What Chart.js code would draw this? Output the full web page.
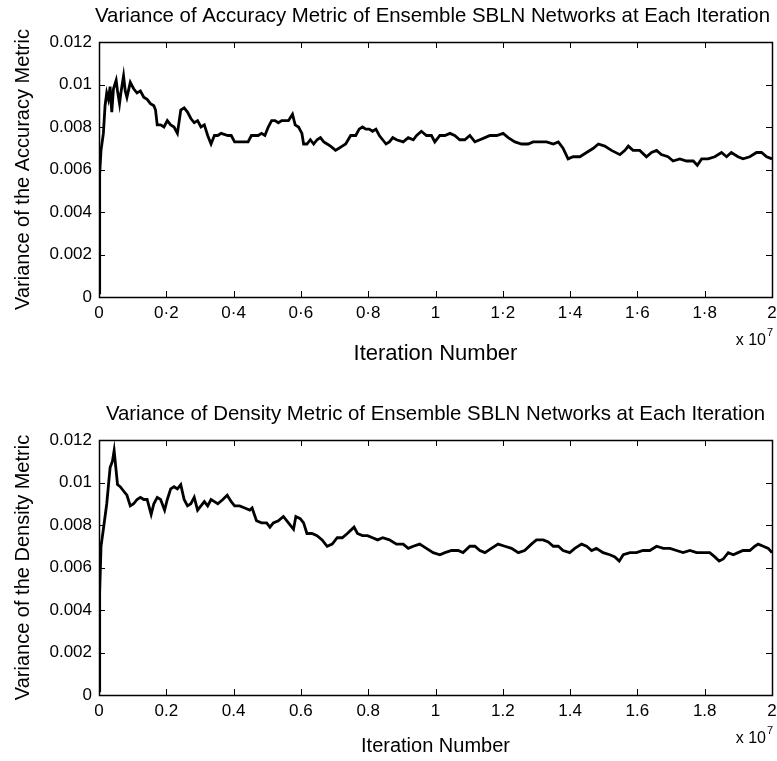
<!DOCTYPE html>
<html>
<head>
<meta charset="utf-8">
<script src="https://cdn.jsdelivr.net/npm/chart.js@4.4.0/dist/chart.umd.min.js"></script>
<style>
  html, body { margin: 0; padding: 0; background: #fff; }
  body { width: 777px; height: 761px; position: relative; overflow: hidden; }
  canvas { position: absolute; left: 0; }
  #accChart { top: 0; }
  #denChart { top: 398px; }
</style>
</head>
<body>
<canvas id="accChart" width="777" height="370"></canvas>
<canvas id="denChart" width="777" height="363"></canvas>
<script>
// iteration number in units of 1e7 (axis shows "x 10^7")
const accIter = [0, 0.002, 0.006, 0.013, 0.018, 0.023, 0.028, 0.033, 0.038, 0.043, 0.051, 0.055, 0.061, 0.065, 0.073, 0.078, 0.083, 0.093, 0.103, 0.113,
  0.123, 0.133, 0.143, 0.153, 0.163, 0.168, 0.173, 0.183, 0.193, 0.203, 0.213, 0.223, 0.233, 0.243, 0.253, 0.263, 0.273, 0.283, 0.293, 0.303,
  0.313, 0.323, 0.333, 0.343, 0.353, 0.363, 0.383, 0.393, 0.403, 0.423, 0.443, 0.453, 0.473, 0.483, 0.493, 0.503, 0.513, 0.523, 0.533, 0.543,
  0.563, 0.575, 0.583, 0.593, 0.603, 0.608, 0.618, 0.628, 0.638, 0.648, 0.658, 0.668, 0.678, 0.688, 0.703, 0.713, 0.723, 0.733, 0.748, 0.763,
  0.773, 0.783, 0.793, 0.803, 0.813, 0.823, 0.833, 0.843, 0.853, 0.863, 0.873, 0.884, 0.904, 0.919, 0.934, 0.944, 0.958, 0.973, 0.988, 0.998,
  1.013, 1.028, 1.043, 1.057, 1.072, 1.087, 1.102, 1.117, 1.132, 1.147, 1.162, 1.182, 1.201, 1.216, 1.236, 1.256, 1.275, 1.290, 1.310, 1.330,
  1.350, 1.365, 1.379, 1.394, 1.409, 1.429, 1.449, 1.469, 1.484, 1.503, 1.523, 1.548, 1.563, 1.573, 1.587, 1.607, 1.627, 1.642, 1.657, 1.671,
  1.691, 1.706, 1.726, 1.746, 1.766, 1.778, 1.791, 1.810, 1.830, 1.850, 1.865, 1.879, 1.899, 1.914, 1.934, 1.954, 1.969, 1.984, 2.0];
const accVar = [0.0002, 0.0058, 0.0069, 0.0077, 0.0090, 0.0096, 0.0093, 0.0099, 0.0087, 0.0098, 0.0102, 0.0097, 0.0091, 0.0096, 0.0104, 0.0097, 0.0094, 0.0101, 0.0098, 0.0096,
  0.0097, 0.0094, 0.0093, 0.0091, 0.0090, 0.0088, 0.0081, 0.0081, 0.0080, 0.0083, 0.0081, 0.0080, 0.0077, 0.0088, 0.0089, 0.0087, 0.0084, 0.0082, 0.0083, 0.0080,
  0.0081, 0.0076, 0.0072, 0.0076, 0.0076, 0.0077, 0.0076, 0.0076, 0.0073, 0.0073, 0.0073, 0.0076, 0.0076, 0.0077, 0.0076, 0.0080, 0.0083, 0.0083, 0.0082, 0.0083,
  0.0083, 0.0086, 0.0081, 0.0080, 0.0077, 0.0072, 0.0072, 0.0074, 0.0072, 0.0074, 0.0075, 0.0073, 0.0072, 0.0071, 0.0069, 0.0070, 0.0071, 0.0072, 0.0076, 0.0076,
  0.0079, 0.0080, 0.0079, 0.0079, 0.0078, 0.0079, 0.0076, 0.0074, 0.0072, 0.0073, 0.0075, 0.0074, 0.0073, 0.0075, 0.0074, 0.0076, 0.0078, 0.0076, 0.0076, 0.0073,
  0.0076, 0.0076, 0.0077, 0.0076, 0.0074, 0.0074, 0.0076, 0.0073, 0.0074, 0.0075, 0.0076, 0.0076, 0.0077, 0.0075, 0.0073, 0.0072, 0.0072, 0.0073, 0.0073, 0.0073,
  0.0072, 0.0073, 0.0070, 0.0065, 0.0066, 0.0066, 0.0068, 0.0070, 0.0072, 0.0071, 0.0069, 0.0067, 0.0069, 0.0071, 0.0069, 0.0069, 0.0066, 0.0068, 0.0069, 0.0067,
  0.0066, 0.0064, 0.0065, 0.0064, 0.0064, 0.0062, 0.0065, 0.0065, 0.0066, 0.0068, 0.0066, 0.0068, 0.0066, 0.0065, 0.0066, 0.0068, 0.0068, 0.0066, 0.0065];

const denIter = [0, 0.002, 0.006, 0.013, 0.023, 0.033, 0.040, 0.045, 0.050, 0.055, 0.063, 0.073, 0.083, 0.093, 0.103, 0.113, 0.123, 0.133, 0.143, 0.155,
  0.163, 0.173, 0.183, 0.195, 0.203, 0.213, 0.223, 0.233, 0.243, 0.253, 0.263, 0.273, 0.283, 0.293, 0.303, 0.313, 0.323, 0.333, 0.343, 0.353,
  0.368, 0.381, 0.393, 0.403, 0.418, 0.433, 0.448, 0.455, 0.468, 0.483, 0.498, 0.508, 0.518, 0.533, 0.548, 0.563, 0.578, 0.585, 0.598, 0.608,
  0.618, 0.633, 0.648, 0.663, 0.678, 0.693, 0.708, 0.723, 0.738, 0.758, 0.768, 0.783, 0.798, 0.813, 0.828, 0.843, 0.863, 0.884, 0.904, 0.919,
  0.934, 0.953, 0.973, 0.993, 1.013, 1.028, 1.048, 1.067, 1.082, 1.102, 1.117, 1.132, 1.147, 1.166, 1.186, 1.206, 1.226, 1.246, 1.265, 1.285,
  1.300, 1.320, 1.335, 1.350, 1.365, 1.379, 1.399, 1.414, 1.434, 1.449, 1.464, 1.478, 1.498, 1.518, 1.533, 1.546, 1.558, 1.578, 1.597, 1.617,
  1.637, 1.657, 1.677, 1.697, 1.716, 1.736, 1.756, 1.776, 1.795, 1.815, 1.830, 1.843, 1.855, 1.870, 1.885, 1.899, 1.914, 1.934, 1.949, 1.959,
  1.974, 1.989, 2.0];
const denVar = [0.0002, 0.0048, 0.0070, 0.0078, 0.0090, 0.0107, 0.0110, 0.0115, 0.0107, 0.0099, 0.0098, 0.0096, 0.0094, 0.0089, 0.0090, 0.0092, 0.0093, 0.0092, 0.0092, 0.0085,
  0.0090, 0.0093, 0.0092, 0.0087, 0.0092, 0.0097, 0.0098, 0.0097, 0.0099, 0.0092, 0.0089, 0.0090, 0.0093, 0.0087, 0.0089, 0.0091, 0.0089, 0.0092, 0.0091, 0.0090,
  0.0092, 0.0094, 0.0091, 0.0089, 0.0089, 0.0088, 0.0087, 0.0088, 0.0082, 0.0081, 0.0081, 0.0079, 0.0081, 0.0082, 0.0084, 0.0081, 0.0078, 0.0084, 0.0083, 0.0081,
  0.0076, 0.0076, 0.0075, 0.0073, 0.0070, 0.0071, 0.0074, 0.0074, 0.0076, 0.0079, 0.0076, 0.0075, 0.0075, 0.0074, 0.0073, 0.0074, 0.0073, 0.0071, 0.0071, 0.0069,
  0.0070, 0.0071, 0.0069, 0.0067, 0.0066, 0.0067, 0.0068, 0.0068, 0.0067, 0.0070, 0.0070, 0.0068, 0.0067, 0.0069, 0.0071, 0.0070, 0.0069, 0.0067, 0.0068, 0.0071,
  0.0073, 0.0073, 0.0072, 0.0070, 0.0070, 0.0068, 0.0067, 0.0069, 0.0071, 0.0070, 0.0068, 0.0069, 0.0067, 0.0066, 0.0065, 0.0063, 0.0066, 0.0067, 0.0067, 0.0068,
  0.0068, 0.0070, 0.0069, 0.0069, 0.0068, 0.0067, 0.0068, 0.0067, 0.0067, 0.0067, 0.0065, 0.0063, 0.0064, 0.0067, 0.0066, 0.0067, 0.0068, 0.0068, 0.0070, 0.0071,
  0.0070, 0.0069, 0.0067];

const xMin = 0, xMax = 2, xStep = 0.2;
const yMin = 0, yMax = 0.012, yStep = 0.002;

const FONT = "'Liberation Sans', Arial, Helvetica, sans-serif";
Chart.defaults.font.family = FONT;
Chart.defaults.color = '#000';

// title, inward tick marks, plot box and the "x 10^7" exponent
const framePlugin = {
  id: 'frame',
  afterDraw(chart, args, opts) {
    const ctx = chart.ctx;
    const a = chart.chartArea;
    const xs = chart.scales.x, ys = chart.scales.y;
    const len = 6;
    ctx.save();
    ctx.strokeStyle = '#000';
    ctx.lineWidth = 1;
    ctx.beginPath();
    xs.ticks.forEach(t => {
      const px = Math.round(xs.getPixelForValue(t.value)) + 0.5;
      ctx.moveTo(px, a.bottom); ctx.lineTo(px, a.bottom - len);
      ctx.moveTo(px, a.top); ctx.lineTo(px, a.top + len);
    });
    ys.ticks.forEach(t => {
      const py = Math.round(ys.getPixelForValue(t.value)) + 0.5;
      ctx.moveTo(a.left, py); ctx.lineTo(a.left + len, py);
      ctx.moveTo(a.right, py); ctx.lineTo(a.right - len, py);
    });
    ctx.stroke();
    ctx.lineWidth = 1.5;
    ctx.strokeRect(Math.round(a.left) + 0.5, Math.round(a.top) + 0.5,
      Math.round(a.right - a.left), Math.round(a.bottom - a.top));
    ctx.fillStyle = '#000';
    // title
    ctx.font = '20.4px ' + FONT;
    ctx.textAlign = 'center';
    ctx.textBaseline = 'middle';
    ctx.fillText(opts.text, (a.left + a.right) / 2 + opts.shift, 16);
    // exponent label
    ctx.font = '16px ' + FONT;
    ctx.textAlign = 'right';
    ctx.textBaseline = 'alphabetic';
    ctx.fillText('x 10', a.right - 6, a.bottom + 48);
    ctx.font = '11px ' + FONT;
    ctx.textAlign = 'left';
    ctx.fillText('7', a.right - 5, a.bottom + 39);
    ctx.restore();
  }
};

function makeChart(id, iters, values, titleText, titleShift, yTitle, xTitleSize, xTickFmt, canvasH) {
  const points = iters.map((x, i) => ({ x: x, y: values[i] }));
  return new Chart(document.getElementById(id), {
    type: 'line',
    data: {
      datasets: [{
        data: points,
        borderColor: '#000',
        borderWidth: 2.8,
        pointRadius: 0,
        tension: 0,
        fill: false
      }]
    },
    options: {
      responsive: false,
      animation: false,
      events: [],
      layout: { padding: { left: 0, right: 0, top: 42, bottom: 0 } },
      plugins: {
        legend: { display: false },
        tooltip: { enabled: false },
        title: { display: false },
        frame: { text: titleText, shift: titleShift }
      },
      scales: {
        x: {
          type: 'linear',
          min: xMin, max: xMax,
          grid: { display: false, drawTicks: false },
          border: { display: false },
          ticks: {
            stepSize: xStep,
            autoSkip: false,
            maxRotation: 0,
            padding: 6,
            font: { size: 17 },
            color: '#000',
            callback: xTickFmt
          },
          title: {
            display: true,
            text: 'Iteration Number',
            color: '#000',
            font: { size: xTitleSize },
            padding: { top: 0, bottom: 3 }
          },
          afterFit: s => {
            s.height = canvasH - 297;
            s.paddingLeft = 0;
            s.paddingRight = 5;
          }
        },
        y: {
          min: yMin, max: yMax,
          grid: { display: false, drawTicks: false },
          border: { display: false },
          ticks: {
            stepSize: yStep,
            padding: 7,
            font: { size: 17 },
            color: '#000',
            callback: v => String(Number(v.toFixed(3)))
          },
          title: {
            display: true,
            text: yTitle,
            color: '#000',
            font: { size: 20 },
            padding: { top: 11, bottom: 0 }
          },
          afterFit: s => { s.width = 99; }
        }
      }
    },
    plugins: [framePlugin]
  });
}

const dotFmt = v => {
  const r = Math.round(v * 10) / 10;
  return Number.isInteger(r) ? String(r) : r.toFixed(1).replace('.', '\u00B7');
};
const plainFmt = v => String(Math.round(v * 10) / 10);

makeChart('accChart', accIter, accVar,
  'Variance of Accuracy Metric of Ensemble SBLN Networks at Each Iteration', -3,
  'Variance of the Accuracy Metric', 22, dotFmt, 370);
makeChart('denChart', denIter, denVar,
  'Variance of Density Metric of Ensemble SBLN Networks at Each Iteration', 0,
  'Variance of the Density Metric', 20, plainFmt, 363);
</script>
</body>
</html>
